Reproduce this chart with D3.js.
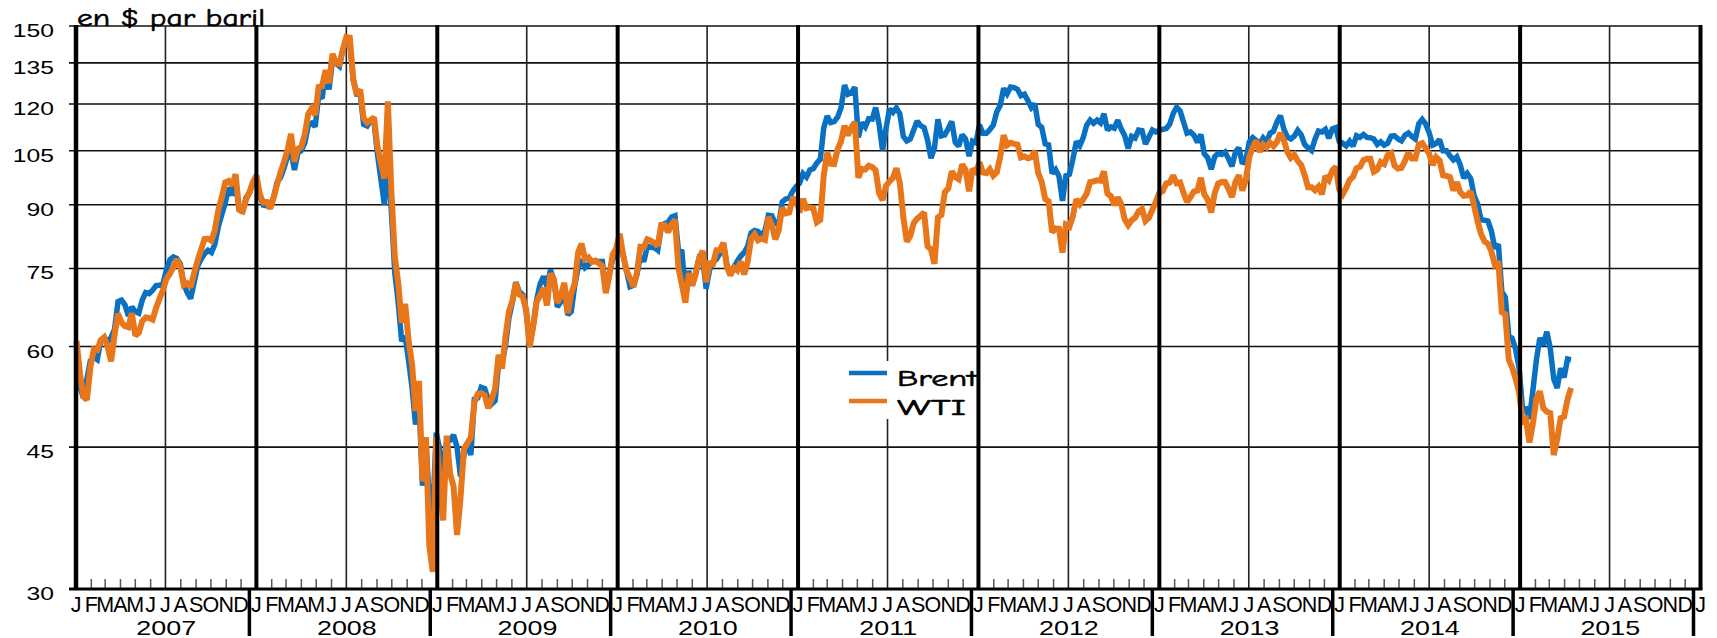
<!DOCTYPE html>
<html>
<head>
<meta charset="utf-8">
<script src="https://cdn.jsdelivr.net/npm/d3@7"></script>
<style>
  html, body { margin: 0; padding: 0; background: #fff; }
  svg { display: block; }
</style>
</head>
<body>
<svg id="chart" width="1717" height="638"></svg>
<script>
// ---------------- DATA (weekly readings, $ per barrel) ----------------
const brent2007 = [57.5,53.5,51.8,54.6,57.6,58.2,57.8,61.0,61.5,60.8,61.6,63.0,68.2,68.5,67.6,65.5,67.2,66.3,66.0,68.5,70.0,69.8,70.5,71.4,71.5,71.7,74.8,76.9,77.5,77.2,76.0,71.8,70.0,68.8,72.0,75.5,77.0,78.2,79.0,78.5,80.4,84.5,87.5,90.5,94.5,92.5,95.5,89.0,88.0,91.8,93.0,95.8];
const wti2007   = [61.0,55.6,52.0,51.5,56.5,59.5,59.4,61.1,61.6,60.0,57.5,62.0,65.9,64.3,63.6,63.4,66.0,61.9,62.4,64.5,65.2,65.1,64.8,67.0,68.8,70.5,72.8,73.9,75.3,77.0,75.5,71.5,71.9,71.1,74.0,76.7,79.1,81.6,81.7,81.2,83.7,88.6,91.9,95.9,96.3,95.1,98.2,88.7,88.3,91.3,93.3,96.0];
const brent2008 = [96.0,92.4,89.9,89.7,89.7,92.0,96.0,97.3,100.0,103.3,104.9,99.4,104.3,105.1,107.4,112.9,113.6,112.5,123.0,122.0,131.3,125.1,135.8,134.8,133.7,140.3,143.6,143.0,128.4,123.5,123.6,113.2,112.7,114.5,114.1,104.0,96.7,90.0,102.6,88.6,74.1,68.0,60.9,61.8,57.6,53.3,48.0,51.4,40.3,45.8,38.5,37.5];
const wti2008   = [97.9,92.7,90.6,90.7,89.0,91.8,95.5,98.8,101.8,105.2,110.2,101.8,105.6,106.2,110.1,116.7,118.5,116.3,126.0,126.3,132.2,127.4,138.5,134.9,134.6,140.2,145.3,145.1,128.9,123.3,125.1,115.2,113.8,114.6,115.5,106.2,101.2,97.0,120.9,93.9,77.7,71.9,64.2,67.8,61.0,57.0,49.9,54.4,40.8,46.3,33.9,31.5];
const brent2009 = [46.9,44.7,42.0,45.6,45.9,46.6,45.0,41.4,44.0,45.6,44.0,51.6,51.8,53.4,53.2,51.6,50.9,51.4,57.1,57.3,60.1,65.1,68.1,72.1,70.2,69.6,66.2,60.4,63.5,68.5,71.7,73.3,71.2,74.7,72.6,67.2,68.2,70.1,65.7,66.3,71.3,75.2,76.9,75.2,75.8,76.6,76.6,76.5,76.5,70.3,73.9,77.1];
const wti2009   = [46.3,40.8,36.5,46.5,41.7,40.2,35.0,38.9,44.8,45.5,46.3,51.1,52.4,52.5,52.2,50.3,51.6,53.2,58.6,56.3,61.7,66.3,68.4,72.0,69.6,69.2,66.7,59.9,63.6,68.1,69.5,70.9,67.5,73.9,72.7,68.0,69.3,72.0,66.0,69.9,71.8,78.5,80.5,77.0,77.4,76.4,76.7,76.1,75.5,69.9,73.4,78.1];
const brent2010 = [77.9,81.4,77.9,74.5,71.2,71.5,73.7,77.6,76.5,79.9,79.7,79.6,79.0,84.2,85.3,85.6,86.9,87.2,79.0,78.7,70.0,74.5,71.4,74.1,77.4,77.1,70.8,74.7,76.4,77.0,78.3,80.6,75.9,73.8,75.2,76.6,77.7,78.5,79.9,83.0,83.6,83.4,82.3,83.6,87.3,87.2,85.3,85.0,90.7,91.5,91.7,93.5,94.8];
const wti2010   = [79.4,82.8,78.0,74.5,72.9,71.2,74.1,79.8,79.7,81.5,81.2,80.7,80.0,84.9,84.9,83.2,85.1,86.2,75.1,71.6,68.0,74.0,71.5,73.8,77.2,78.9,72.1,76.1,76.0,79.0,79.0,80.7,75.4,73.5,75.2,74.6,76.5,73.7,76.5,81.6,82.7,81.3,81.7,81.4,86.9,84.9,81.5,83.8,89.2,87.8,88.0,91.5,91.4];
const brent2011 = [95.7,98.4,97.4,99.4,99.8,101.4,102.5,112.1,116.0,113.8,114.1,115.6,118.7,126.7,123.4,124.0,125.9,109.1,113.8,112.4,115.1,115.0,118.8,113.2,105.1,111.9,118.3,117.2,118.7,116.7,109.4,108.0,108.6,111.4,114.3,112.8,112.2,108.3,102.8,105.9,114.9,109.6,109.9,111.9,114.2,107.6,106.4,109.9,108.6,103.4,107.9,107.4];
const wti2011   = [88.0,91.5,89.1,89.3,89.0,85.6,86.2,97.9,104.4,101.2,101.1,105.4,107.9,112.8,109.7,112.3,113.9,97.2,99.7,99.5,100.6,100.2,99.3,93.0,91.2,95.0,96.2,97.2,99.9,95.7,86.9,81.0,82.3,85.4,86.5,87.2,88.0,79.9,79.2,76.0,86.8,87.4,93.3,94.3,99.0,97.4,96.8,101.0,99.4,93.5,99.7,98.8];
const brent2012 = [113.1,110.4,110.4,111.5,113.0,117.3,119.6,125.5,123.6,126.0,125.8,125.2,122.9,123.4,121.2,118.8,120.1,113.2,112.3,107.1,106.8,98.4,99.5,97.6,91.0,97.8,98.2,102.4,107.8,106.5,109.0,113.0,114.6,113.6,114.6,113.7,116.7,111.4,112.4,112.0,114.6,111.7,109.6,105.7,109.4,108.9,111.4,111.2,107.0,109.2,111.4,110.8];
const wti2012   = [101.6,98.7,98.5,99.6,97.8,98.7,103.2,109.8,106.7,107.4,107.1,106.9,103.0,103.3,102.8,103.1,104.9,98.5,96.1,91.5,90.9,83.2,84.1,84.0,78.5,85.0,84.5,87.1,91.4,90.1,91.4,92.9,96.0,96.2,96.5,96.4,99.0,92.9,92.2,89.9,91.9,90.1,86.3,84.9,86.1,86.7,88.3,88.9,85.9,86.7,88.7,90.8];
const brent2013 = [111.3,111.6,111.9,113.3,116.8,118.9,117.7,114.0,110.4,110.8,109.8,107.6,110.0,104.1,102.9,99.6,103.2,104.2,103.9,104.6,102.6,100.4,104.6,105.9,101.2,102.2,107.7,109.0,108.1,107.2,108.9,107.5,110.4,111.0,114.0,116.1,111.7,109.2,108.6,109.5,111.3,109.9,106.9,105.9,105.1,108.5,111.1,110.8,111.6,108.8,111.8,112.2];
const wti2013   = [93.1,93.6,95.6,95.9,97.8,95.7,95.9,93.1,90.7,92.0,93.5,93.7,97.2,92.7,91.3,88.0,93.0,95.6,96.0,96.0,94.2,92.0,96.0,97.9,93.7,96.6,103.2,106.0,108.1,104.7,106.9,106.0,107.5,106.4,107.7,110.5,108.2,104.7,102.9,103.8,102.0,100.8,97.9,94.6,94.6,93.8,94.8,92.7,97.7,96.6,99.3,100.3];
const brent2014 = [107.8,107.3,106.5,107.9,106.4,109.6,109.1,110.0,109.1,109.0,108.6,106.9,107.7,106.7,107.3,109.5,109.6,108.6,108.0,109.8,110.5,109.4,108.6,113.4,114.8,113.3,110.6,106.7,107.2,108.4,105.0,105.0,103.5,102.3,103.2,100.8,97.1,98.4,97.0,92.3,90.2,86.2,86.1,85.9,83.4,79.4,80.4,70.2,69.1,61.9,61.4,59.5];
const wti2014   = [94.0,92.7,94.4,96.6,97.5,99.9,100.3,102.2,102.6,102.6,98.9,99.5,101.7,101.1,103.7,104.3,100.6,99.8,100.0,102.0,104.4,102.7,102.7,106.9,107.3,105.7,104.1,100.8,103.1,102.1,97.9,97.7,97.4,93.7,96.0,93.3,92.3,92.4,93.5,89.7,85.8,82.8,81.0,80.5,78.7,75.8,76.5,66.2,65.8,57.8,56.5,54.7];
const brent2015 = [56.4,50.1,50.2,48.8,53.0,57.8,61.5,60.2,62.6,59.7,54.7,53.3,56.4,54.9,57.9,57.8];
const wti2015   = [52.7,48.4,48.7,45.6,48.2,51.7,52.8,50.3,49.8,49.6,44.0,46.0,48.9,49.1,51.6,53.3];

const firstWeek = "2007-01-02";           // first weekly reading
const yearLabels = ["2007","2008","2009","2010","2011","2012","2013","2014","2015"];
const monthLetters = ["J","F","M","A","M","J","J","A","S","O","N","D"];
const yTickValues = [30,45,60,75,90,105,120,135,150];
const seriesNames = ["Brent","WTI"];
const seriesColors = ["#0A70C2","#E8761A"];
const unitTitle = "en $ par baril";

// ---------------- BUILD ----------------
const brent = [].concat(brent2007,brent2008,brent2009,brent2010,brent2011,brent2012,brent2013,brent2014,brent2015);
const wti   = [].concat(wti2007,wti2008,wti2009,wti2010,wti2011,wti2012,wti2013,wti2014,wti2015);
const start = d3.timeParse("%Y-%m-%d")(firstWeek);
const dates = brent.map((_, i) => d3.timeWeek.offset(start, i));
const series = [brent, wti].map((vals, k) => ({
  name: seriesNames[k], color: seriesColors[k],
  pts: vals.map((v, i) => ({ d: dates[i], v }))
}));

const L = 76, R = 1700.5, T = 26, B = 589;
const yearStart = new Date(+yearLabels[0], 0, 1);
const yearEnd = new Date(+yearLabels[yearLabels.length - 1] + 1, 0, 1);
const x = d3.scaleTime().domain([yearStart, yearEnd]).range([L, R]);
const y = d3.scaleLog().domain([30, 150]).range([B, T]);

const svg = d3.select("#chart");
const sans = "'Liberation Sans', Arial, sans-serif";
const comic = "'Comic Sans MS', 'Comic Neue', 'DejaVu Sans', sans-serif";

const years = d3.timeYear.range(yearStart, d3.timeDay.offset(yearEnd, 1));
const months = d3.timeMonth.range(yearStart, d3.timeDay.offset(yearEnd, 1));
const julys = years.slice(0, -1).map(d => new Date(d.getFullYear(), 6, 1));

// horizontal gridlines (with small outer ticks)
svg.append("g").selectAll("line").data(yTickValues).join("line")
  .attr("x1", 69).attr("x2", R).attr("y1", d => y(d)).attr("y2", d => y(d))
  .attr("stroke", "#111").attr("stroke-width", 1.6);

// mid-year thin verticals
svg.append("g").selectAll("line").data(julys).join("line")
  .attr("x1", d => x(d)).attr("x2", d => x(d)).attr("y1", T).attr("y2", B)
  .attr("stroke", "#222").attr("stroke-width", 1.6);

// minor month ticks
svg.append("g").selectAll("line")
  .data(months.filter(d => d.getMonth() !== 0 && d.getMonth() !== 6)).join("line")
  .attr("x1", d => x(d)).attr("x2", d => x(d)).attr("y1", B - 10).attr("y2", B)
  .attr("stroke", "#555").attr("stroke-width", 1.5);

// data lines
const line = d3.line().x(p => x(p.d)).y(p => y(p.v));
svg.append("g").selectAll("path").data(series).join("path")
  .attr("d", s => line(s.pts)).attr("fill", "none")
  .attr("stroke", s => s.color).attr("stroke-width", (s, i) => i === 0 ? 5.5 : 6)
  .attr("stroke-linejoin", "miter").attr("stroke-miterlimit", 2);

// legend
const lg = svg.append("g");
lg.append("rect").attr("x", 842).attr("y", 361).attr("width", 137).attr("height", 58).attr("fill", "#fff");
series.forEach((s, i) => {
  const ly = 373 + i * 28;
  lg.append("line").attr("x1", 849).attr("x2", 887).attr("y1", ly).attr("y2", ly)
    .attr("stroke", s.color).attr("stroke-width", 4.5);
  lg.append("text").attr("x", 897).attr("y", 386 + i * 29).text(s.name)
    .attr("font-family", comic).attr("font-size", 23).attr("fill", "#000")
    .attr("stroke", "#000").attr("stroke-width", 0.6)
    .attr("textLength", i === 0 ? 80 : 69).attr("lengthAdjust", "spacingAndGlyphs");
});

// thick year lines (on top)
svg.append("g").selectAll("line").data(years).join("line")
  .attr("x1", d => x(d)).attr("x2", d => x(d)).attr("y1", T - 1).attr("y2", B)
  .attr("stroke", "#000").attr("stroke-width", (d, i) => i === 0 ? 4.5 : 4);

// bottom axis line
svg.append("line").attr("x1", 69).attr("x2", R + 2).attr("y1", B).attr("y2", B)
  .attr("stroke", "#000").attr("stroke-width", 3);

// separators under axis
svg.append("g").selectAll("line").data(years.slice(1)).join("line")
  .attr("x1", d => x(d) - 7).attr("x2", d => x(d) - 7).attr("y1", B).attr("y2", 636)
  .attr("stroke", "#000").attr("stroke-width", 3.5);

// month letters
svg.append("g").selectAll("text").data(months).join("text")
  .attr("x", d => x(d)).attr("y", 612).attr("text-anchor", "middle")
  .attr("font-family", sans).attr("font-size", 21.5).attr("fill", "#000")
  .text(d => monthLetters[d.getMonth()]);

// year labels
svg.append("g").selectAll("text").data(yearLabels).join("text")
  .attr("transform", (d, i) => `translate(${(x(years[i]) + x(years[i + 1])) / 2},635) scale(1.28,1)`)
  .attr("text-anchor", "middle").attr("font-family", sans).attr("font-size", 21).attr("fill", "#000")
  .text(d => d);

// y labels
svg.append("g").selectAll("text").data(yTickValues).join("text")
  .attr("transform", d => `translate(54,${y(d) + 11}) scale(1.3,1)`)
  .attr("text-anchor", "end").attr("font-family", sans).attr("font-size", 19).attr("fill", "#000")
  .text(d => d);

// unit title
svg.append("text").attr("x", 77).attr("y", 26).text(unitTitle)
  .attr("font-family", comic).attr("font-size", 25).attr("fill", "#000")
  .attr("stroke", "#000").attr("stroke-width", 0.6)
  .attr("textLength", 188).attr("lengthAdjust", "spacingAndGlyphs");
</script>
</body>
</html>
